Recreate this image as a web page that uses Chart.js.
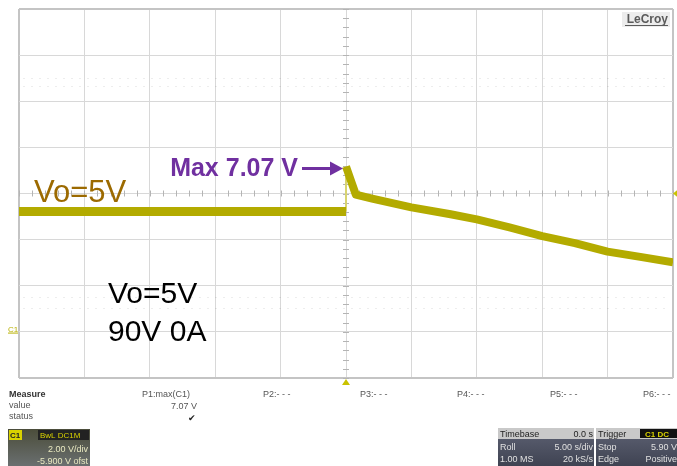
<!DOCTYPE html>
<html>
<head>
<meta charset="utf-8">
<script src="https://cdn.jsdelivr.net/npm/chart.js@4.4.1/dist/chart.umd.min.js"></script>
<style>
    html, body { margin: 0; padding: 0; background: #fff; }
    #wrap { width: 677px; height: 466px; position: relative; }
</style>
</head>
<body>
<div id="wrap"><canvas id="scope" width="677" height="466"></canvas></div>
<script>
// trace: 5 s/div, 2 V/div, offset -5.9 V
const preTimeS = [-25, -12.5, 0];
const preVoltsV = [5.12, 5.12, 5.12];
const postTimeS = [0, 0.75, 2, 5, 8, 10, 12.5, 15, 17.5, 20, 22.5, 25];
const postVoltsV = [7.07, 5.85, 5.68, 5.3, 5.0, 4.78, 4.43, 4.05, 3.75, 3.38, 3.15, 2.92];
const edgeTimeS = [0, 0];
const edgeVoltsV = [5.12, 7.07];

const timeGridS = [-25, -20, -15, -10, -5, 0, 5, 10, 15, 20, 25];
const voltGridV = [-2.1, -0.1, 1.9, 3.9, 5.9, 7.9, 9.9, 11.9, 13.9];
const ghostRowsV = [10.9, 10.55, 1.4, 0.95];

const probeLabels = ['P1:max(C1)', 'P2:- - -', 'P3:- - -', 'P4:- - -', 'P5:- - -', 'P6:- - -'];
const probeX = [142, 263, 360, 457, 550, 643];

const traceColor = '#b3ab00';
const pts = (xs, ys) => xs.map((x, i) => ({x: x, y: ys[i]}));

const scopeDecor = {
    id: 'scopeDecor',
    beforeDatasetsDraw(chart) {
        const ctx = chart.ctx;
        const xs = chart.scales.x, ys = chart.scales.y;
        const a = chart.chartArea;
        ctx.save();
        // faint dotted rows
        ctx.strokeStyle = 'rgba(0,0,0,0.07)';
        ctx.setLineDash([2, 6]);
        ctx.lineWidth = 1;
        ghostRowsV.forEach(v => {
            const y = Math.round(ys.getPixelForValue(v)) + 0.5;
            ctx.beginPath(); ctx.moveTo(a.left + 4, y); ctx.lineTo(a.right - 4, y); ctx.stroke();
        });
        ctx.setLineDash([]);
        // minor ticks on the centre cross
        ctx.strokeStyle = '#b4b4b4';
        const cy = ys.getPixelForValue(5.9), cx = xs.getPixelForValue(0);
        for (let t = -25; t <= 25; t += 1) {
            const x = Math.round(xs.getPixelForValue(t)) + 0.5;
            ctx.beginPath(); ctx.moveTo(x, cy - 3); ctx.lineTo(x, cy + 3); ctx.stroke();
        }
        for (let k = 0; k <= 40; k++) {
            const y = Math.round(ys.getPixelForValue(-2.1 + k * 0.4)) + 0.5;
            ctx.beginPath(); ctx.moveTo(cx - 3, y); ctx.lineTo(cx + 3, y); ctx.stroke();
        }
        ctx.restore();
    },
    afterDraw(chart) {
        const ctx = chart.ctx;
        const xs = chart.scales.x, ys = chart.scales.y;
        const a = chart.chartArea;
        ctx.save();

        // LeCroy logo
        ctx.fillStyle = '#ececec';
        ctx.fillRect(622, 12, 48, 15);
        ctx.font = 'bold 12px "Liberation Sans", Arial, sans-serif';
        ctx.fillStyle = '#5a5a5a';
        ctx.textAlign = 'right';
        ctx.fillText('LeCroy', 668, 23);
        ctx.fillRect(625, 25, 43, 1);

        // brown label
        ctx.textAlign = 'left';
        ctx.font = '31px "Liberation Sans", Arial, sans-serif';
        ctx.fillStyle = '#9c6a00';
        ctx.fillText('Vo=5V', 34, 202);

        // black labels
        ctx.fillStyle = '#000';
        ctx.font = '30px "Liberation Sans", Arial, sans-serif';
        ctx.fillText('Vo=5V', 108, 303);
        ctx.fillText('90V 0A', 108, 341);

        // max annotation pointing at the peak
        const px = xs.getPixelForValue(0), py = ys.getPixelForValue(7.07);
        ctx.fillStyle = '#7030a0';
        ctx.strokeStyle = '#7030a0';
        ctx.font = 'bold 25px "Liberation Sans", Arial, sans-serif';
        ctx.textAlign = 'right';
        ctx.fillText('Max 7.07 V', px - 48, py + 9);
        ctx.lineWidth = 3;
        ctx.beginPath(); ctx.moveTo(px - 44, py + 2); ctx.lineTo(px - 14, py + 2); ctx.stroke();
        ctx.beginPath();
        ctx.moveTo(px - 3, py + 2); ctx.lineTo(px - 16, py - 5); ctx.lineTo(px - 16, py + 9);
        ctx.closePath(); ctx.fill();

        // trigger markers and channel ground marker
        ctx.fillStyle = '#c9c200';
        ctx.beginPath();
        ctx.moveTo(px, a.bottom + 1); ctx.lineTo(px - 4, a.bottom + 7); ctx.lineTo(px + 4, a.bottom + 7);
        ctx.closePath(); ctx.fill();
        const ty = ys.getPixelForValue(5.9);
        ctx.beginPath();
        ctx.moveTo(a.right, ty); ctx.lineTo(a.right + 5, ty - 4); ctx.lineTo(a.right + 5, ty + 4);
        ctx.closePath(); ctx.fill();
        const gy = ys.getPixelForValue(0);
        ctx.font = '8px "Liberation Sans", Arial, sans-serif';
        ctx.textAlign = 'left';
        ctx.fillStyle = '#b8b000';
        ctx.fillText('C1', 8, gy + 2);
        ctx.fillRect(8, gy + 3, 10, 1);

        // measure table
        ctx.fillStyle = '#333';
        ctx.font = 'bold 9px "Liberation Sans", Arial, sans-serif';
        ctx.fillText('Measure', 9, 397);
        ctx.font = '9px "Liberation Sans", Arial, sans-serif';
        ctx.fillStyle = '#555';
        ctx.fillText('value', 9, 408);
        ctx.fillText('status', 9, 419);
        probeLabels.forEach((s, i) => ctx.fillText(s, probeX[i], 397));
        ctx.textAlign = 'right';
        ctx.fillText('7.07 V', 197, 409);
        ctx.fillStyle = '#222';
        ctx.fillText('\u2714', 196, 421);

        // C1 descriptor box
        let g = ctx.createLinearGradient(0, 429, 0, 466);
        g.addColorStop(0, '#4b4d3a'); g.addColorStop(1, '#6a6f70');
        ctx.fillStyle = g;
        ctx.fillRect(8, 429, 82, 37);
        ctx.fillStyle = '#d9d200';
        ctx.fillRect(9, 430, 13, 10);
        ctx.fillStyle = '#222';
        ctx.fillRect(38, 430, 51, 10);
        ctx.textAlign = 'left';
        ctx.font = 'bold 8px "Liberation Sans", Arial, sans-serif';
        ctx.fillStyle = '#222';
        ctx.fillText('C1', 10, 438);
        ctx.fillStyle = '#d9d200';
        ctx.font = '8px "Liberation Sans", Arial, sans-serif';
        ctx.fillText('BwL DC1M', 40, 438);
        ctx.textAlign = 'right';
        ctx.fillStyle = '#e8e8c0';
        ctx.font = '9px "Liberation Sans", Arial, sans-serif';
        ctx.fillText('2.00 V/div', 88, 452);
        ctx.fillText('-5.900 V ofst', 88, 464);

        // timebase / trigger boxes
        ctx.fillStyle = '#c9c9c9';
        ctx.fillRect(498, 428, 96, 11);
        g = ctx.createLinearGradient(0, 439, 0, 466);
        g.addColorStop(0, '#55596a'); g.addColorStop(1, '#3f4352');
        ctx.fillStyle = g;
        ctx.fillRect(498, 439, 96, 27);
        ctx.fillStyle = '#c9c9c9';
        ctx.fillRect(596, 428, 81, 11);
        ctx.fillStyle = g;
        ctx.fillRect(596, 439, 81, 27);
        ctx.fillStyle = '#111';
        ctx.fillRect(640, 429, 37, 9);

        ctx.font = '9px "Liberation Sans", Arial, sans-serif';
        ctx.textAlign = 'left';
        ctx.fillStyle = '#222';
        ctx.fillText('Timebase', 500, 437);
        ctx.fillText('Trigger', 598, 437);
        ctx.fillStyle = '#e0e0e0';
        ctx.fillText('Roll', 500, 450);
        ctx.fillText('1.00 MS', 500, 462);
        ctx.fillText('Stop', 598, 450);
        ctx.fillText('Edge', 598, 462);
        ctx.fillStyle = '#d9d200';
        ctx.font = 'bold 8px "Liberation Sans", Arial, sans-serif';
        ctx.fillText('C1 DC', 645, 437);
        ctx.font = '9px "Liberation Sans", Arial, sans-serif';
        ctx.textAlign = 'right';
        ctx.fillStyle = '#222';
        ctx.fillText('0.0 s', 593, 437);
        ctx.fillStyle = '#e0e0e0';
        ctx.fillText('5.00 s/div', 593, 450);
        ctx.fillText('20 kS/s', 593, 462);
        ctx.fillText('5.90 V', 677, 450);
        ctx.fillText('Positive', 677, 462);

        ctx.restore();
    }
};

new Chart(document.getElementById('scope'), {
    type: 'line',
    data: {
        datasets: [
            {data: pts(preTimeS, preVoltsV), borderColor: traceColor, borderWidth: 9},
            {data: pts(postTimeS, postVoltsV), borderColor: traceColor, borderWidth: 8},
            {data: pts(edgeTimeS, edgeVoltsV), borderColor: '#d8d470', borderWidth: 2}
        ]
    },
    plugins: [scopeDecor],
    options: {
        responsive: false,
        animation: false,
        devicePixelRatio: 1,
        parsing: false,
        layout: {padding: {left: 19, right: 4, top: 9, bottom: 88}},
        elements: {
            point: {radius: 0},
            line: {tension: 0, borderCapStyle: 'butt', borderJoinStyle: 'round'}
        },
        plugins: {legend: {display: false}, tooltip: {enabled: false}},
        scales: {
            x: {
                type: 'linear', min: -25, max: 25,
                afterBuildTicks: s => { s.ticks = timeGridS.map(v => ({value: v})); },
                ticks: {display: false},
                grid: {
                    drawTicks: false,
                    color: c => (c.index === 0 || c.index === timeGridS.length - 1) ? '#c4c4c4' : '#d8d8d8',
                    lineWidth: c => (c.index === 0 || c.index === timeGridS.length - 1) ? 2 : 1
                },
                border: {display: false}
            },
            y: {
                type: 'linear', min: -2.1, max: 13.9,
                afterBuildTicks: s => { s.ticks = voltGridV.map(v => ({value: v})); },
                ticks: {display: false},
                grid: {
                    drawTicks: false,
                    color: c => (c.index === 0 || c.index === voltGridV.length - 1) ? '#c4c4c4' : '#d8d8d8',
                    lineWidth: c => (c.index === 0 || c.index === voltGridV.length - 1) ? 2 : 1
                },
                border: {display: false}
            }
        }
    }
});
</script>
</body>
</html>
